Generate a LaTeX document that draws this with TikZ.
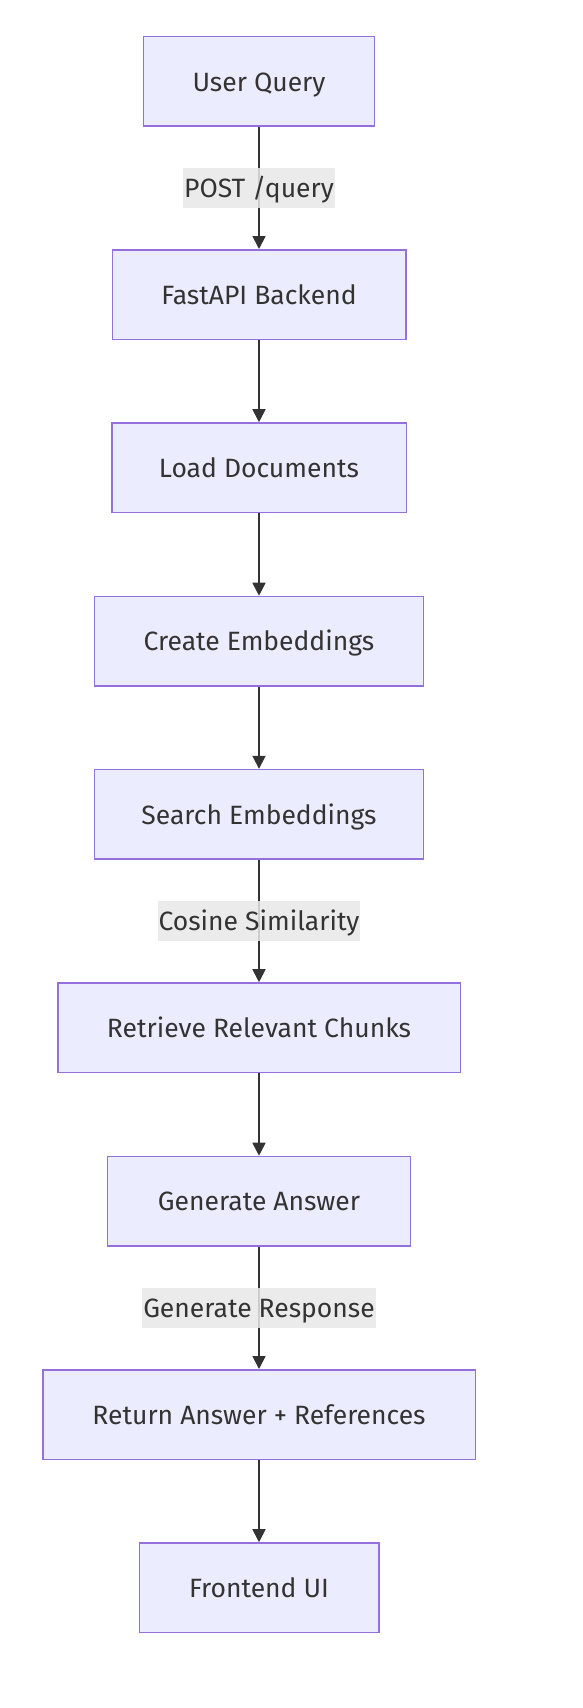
\documentclass[tikz,border=0pt]{standalone}
\usepackage{fontspec}
\setmainfont{Fira Sans}
\usetikzlibrary{arrows.meta}
\definecolor{nodefill}{HTML}{ECECFF}
\definecolor{nodeline}{HTML}{9370DB}
\definecolor{ink}{HTML}{333333}
\definecolor{lblbg}{HTML}{E8E8E8}
\tikzset{
  box/.style={draw=nodeline, fill=nodefill, line width=1.5pt, minimum height=89.5pt,
    inner sep=0pt, text=ink, text height=19.5pt, text depth=0pt,
    font=\fontsize{26.5}{31}\selectfont},
  flow/.style={draw=ink, line width=1.8pt, -{Triangle[length=13pt,width=13pt]}},
  lbl/.style={fill=lblbg, fill opacity=0.85, text opacity=1, text=ink, inner xsep=1pt,
    inner ysep=0pt, minimum height=40pt, text height=19.5pt, text depth=0pt,
    font=\fontsize{26.5}{31}\selectfont}
}
\begin{document}
\begin{tikzpicture}[x=1pt,y=-1pt]
\useasboundingbox[fill=white] (0,0) rectangle (582,1708);
\node[box, minimum width=231pt] (uq) at (259,81.3) {User Query};
\node[box, minimum width=293.5pt] (fb) at (259,294.5) {FastAPI Backend};
\node[box, minimum width=294.5pt] (ld) at (259,467.7) {Load Documents};
\node[box, minimum width=329pt] (ce) at (259,641.2) {Create Embeddings};
\node[box, minimum width=329pt] (se) at (259,814.3) {Search Embeddings};
\node[box, minimum width=402.5pt] (rr) at (259,1027.7) {Retrieve Relevant Chunks};
\node[box, minimum width=303pt] (ga) at (259,1201.2) {Generate Answer};
\node[box, minimum width=432.5pt] (ra) at (259,1414.5) {Return Answer + References};
\node[box, minimum width=239.5pt] (fu) at (259,1587.7) {Frontend UI};
\draw[flow] (uq) -- node[lbl] (l1) {POST /query} (fb);
\draw[flow] (fb) -- (ld);
\draw[flow] (ld) -- (ce);
\draw[flow] (ce) -- (se);
\draw[flow] (se) -- node[lbl] (l2) {Cosine Similarity} (rr);
\draw[flow] (rr) -- (ga);
\draw[flow] (ga) -- node[lbl] (l3) {Generate Response} (ra);
\draw[flow] (ra) -- (fu);
\end{tikzpicture}
\end{document}
